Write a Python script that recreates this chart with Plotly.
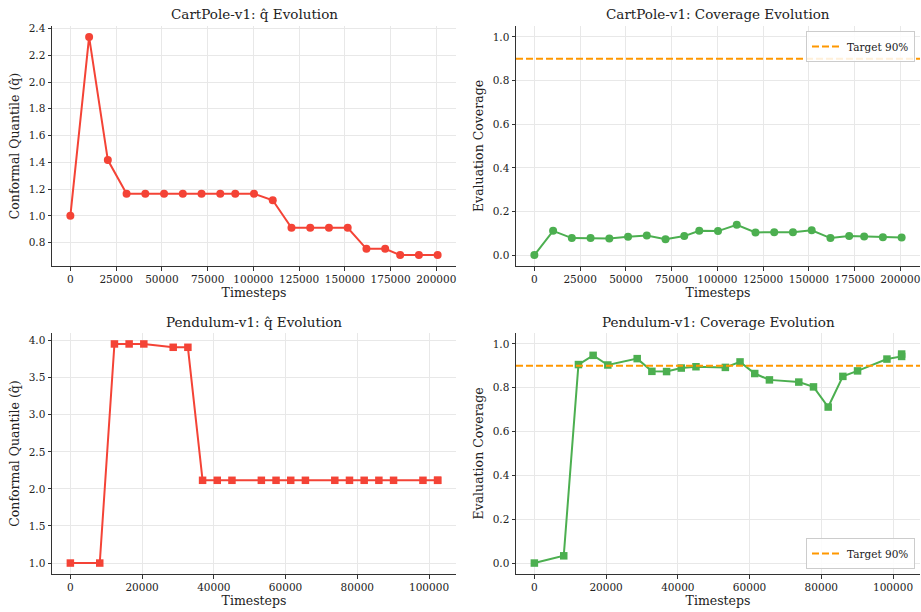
import plotly.graph_objects as go

# ---------------- data ----------------
cp_steps = [0, 10240, 20480, 30720, 40960, 51200, 61440, 71680, 81920, 90112,
            100352, 110592, 120832, 131072, 141312, 151552, 161792, 172032,
            180224, 190464, 200704]
cp_qhat = [1.0, 2.337, 1.417, 1.166, 1.166, 1.166, 1.166, 1.166, 1.166, 1.166,
           1.166, 1.117, 0.911, 0.911, 0.911, 0.911, 0.754, 0.754,
           0.707, 0.707, 0.707]
cp_cov = [0.0, 0.111, 0.078, 0.078, 0.076, 0.084, 0.090, 0.073, 0.087, 0.111,
          0.110, 0.139, 0.104, 0.105, 0.105, 0.114, 0.078, 0.087,
          0.085, 0.082, 0.081]

pe_steps = [0, 8192, 12288, 16384, 20480, 28672, 32768, 36864, 40960, 45056,
            53248, 57344, 61440, 65536, 73728, 77824, 81920, 86016, 90112,
            98304, 102400, 102400]
pe_qhat = [1.0, 1.0, 3.955, 3.955, 3.955, 3.91, 3.91, 2.116, 2.116, 2.116,
           2.116, 2.116, 2.116, 2.116, 2.116, 2.116, 2.116, 2.116, 2.116,
           2.116, 2.116, 2.116]
pe_cov = [0.0, 0.033, 0.906, 0.948, 0.904, 0.933, 0.875, 0.874, 0.890, 0.896,
          0.893, 0.918, 0.865, 0.836, 0.826, 0.804, 0.712, 0.852, 0.877,
          0.931, 0.943, 0.954]

target = 0.9
target_label = "Target 90%"

titles = ["CartPole-v1: q̂ Evolution", "CartPole-v1: Coverage Evolution",
          "Pendulum-v1: q̂ Evolution", "Pendulum-v1: Coverage Evolution"]
xlabel = "Timesteps"
ylabel_q = "Conformal Quantile (q̂)"
ylabel_c = "Evaluation Coverage"

cp_xticks = [0, 25000, 50000, 75000, 100000, 125000, 150000, 175000, 200000]
pe_xticks = [0, 20000, 40000, 60000, 80000, 100000]
cp_qticks = [0.8, 1.0, 1.2, 1.4, 1.6, 1.8, 2.0, 2.2, 2.4]
cov_ticks = [0.0, 0.2, 0.4, 0.6, 0.8, 1.0]
pe_qticks = [1.0, 1.5, 2.0, 2.5, 3.0, 3.5, 4.0]

RED = "#F44336"
GREEN = "#4CAF50"
ORANGE = "#FF9800"
FONT = "DejaVu Serif"

W, H = 921, 612


def pad(lo, hi, f=0.05):
    d = (hi - lo) * f
    return [lo - d, hi + d]


fig = go.Figure()

# domains in pixels -> paper
xl = [52 / W, 456 / W]
xr = [516 / W, 920 / W]
yt = [1 - 266 / H, 1 - 26 / H]
yb = [1 - 574 / H, 1 - 333 / H]

panels = [
    dict(ax="", x=cp_steps, y=cp_qhat, color=RED, sym="circle", xd=xl, yd=yt,
         xr=pad(min(cp_steps), max(cp_steps)), yr=pad(min(cp_qhat), max(cp_qhat)),
         xt=cp_xticks, yt=cp_qticks, yl=ylabel_q),
    dict(ax="2", x=cp_steps, y=cp_cov, color=GREEN, sym="circle", xd=xr, yd=yt,
         xr=pad(min(cp_steps), max(cp_steps)), yr=[-0.05, 1.05],
         xt=cp_xticks, yt=cov_ticks, yl=ylabel_c),
    dict(ax="3", x=pe_steps, y=pe_qhat, color=RED, sym="square", xd=xl, yd=yb,
         xr=pad(min(pe_steps), max(pe_steps)), yr=pad(min(pe_qhat), max(pe_qhat)),
         xt=pe_xticks, yt=pe_qticks, yl=ylabel_q),
    dict(ax="4", x=pe_steps, y=pe_cov, color=GREEN, sym="square", xd=xr, yd=yb,
         xr=pad(min(pe_steps), max(pe_steps)), yr=[-0.05, 1.05],
         xt=pe_xticks, yt=cov_ticks, yl=ylabel_c),
]

axis_common = dict(
    showline=True, linecolor="#333333", linewidth=1, mirror=False,
    ticks="outside", ticklen=3.5, tickwidth=0.8, tickcolor="#333333",
    showgrid=True, gridcolor="#e8e8e8", gridwidth=0.8, zeroline=False,
    automargin=False,
    tickfont=dict(family=FONT, size=10.5, color="#222222"),
)

layout = {}
for i, p in enumerate(panels):
    a = p["ax"]
    fig.add_trace(go.Scatter(
        x=p["x"], y=p["y"], mode="lines+markers",
        line=dict(color=p["color"], width=2),
        marker=dict(color=p["color"], size=8 if p["sym"] == "circle" else 7.5,
                    symbol=p["sym"]),
        xaxis="x" + a, yaxis="y" + a, showlegend=False,
    ))
    layout["xaxis" + a] = dict(
        domain=p["xd"], anchor="y" + a, range=p["xr"],
        tickvals=p["xt"], tickformat="d",
        title=dict(text=xlabel, font=dict(family=FONT, size=12.5, color="#222222"),
                   standoff=3),
        **axis_common)
    layout["yaxis" + a] = dict(
        domain=p["yd"], anchor="x" + a, range=p["yr"],
        tickvals=p["yt"], tickformat=".1f",
        title=dict(text=p["yl"], font=dict(family=FONT, size=12.5, color="#222222"),
                   standoff=6),
        **axis_common)
    fig.add_annotation(
        text=titles[i], xref="x" + a + " domain", yref="y" + a + " domain",
        x=0.5, y=1, xanchor="center", yanchor="bottom", yshift=1.5,
        showarrow=False, font=dict(family=FONT, size=13.5, color="#222222"))

fig.update_layout(**layout)

# target lines with legend entries
for a, leg in [("2", "legend"), ("4", "legend2")]:
    fig.add_shape(type="line", xref="x" + a + " domain", x0=0, x1=1,
                  yref="y" + a, y0=target, y1=target,
                  line=dict(color=ORANGE, width=2, dash="7px,3px"),
                  showlegend=True, name=target_label, legend=leg)

legend_style = dict(
    bgcolor="rgba(255,255,255,0.85)", bordercolor="#cccccc", borderwidth=1,
    font=dict(family=FONT, size=10.5, color="#222222"),
    xanchor="right", itemwidth=30, tracegroupgap=0,
)

fig.update_layout(
    width=W, height=H,
    margin=dict(l=0, r=0, t=0, b=0, autoexpand=False),
    paper_bgcolor="white", plot_bgcolor="white",
    legend=dict(x=xr[1] - 5 / W, y=yt[1] - 5 / H, yanchor="top", **legend_style),
    legend2=dict(x=xr[1] - 5 / W, y=yb[0] + 5 / H, yanchor="bottom", **legend_style),
)

fig.write_html("out.html")
